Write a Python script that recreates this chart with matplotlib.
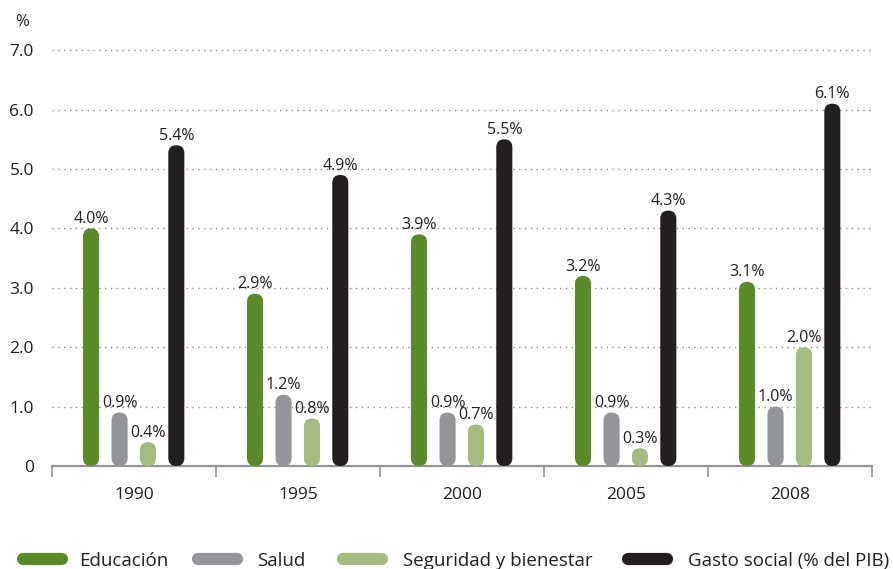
import matplotlib
matplotlib.use("Agg")
import matplotlib.pyplot as plt
from matplotlib.patches import FancyBboxPatch
from matplotlib.lines import Line2D
import numpy as np

plt.rcParams['font.family'] = ['Open Sans', 'DejaVu Sans']

years = ["1990", "1995", "2000", "2005", "2008"]
series_names = ["Educación", "Salud", "Seguridad y bienestar", "Gasto social (% del PIB)"]
educacion = [4.0, 2.9, 3.9, 3.2, 3.1]
salud = [0.9, 1.2, 0.9, 0.9, 1.0]
seguridad = [0.4, 0.8, 0.7, 0.3, 2.0]
gasto_social = [5.4, 4.9, 5.5, 4.3, 6.1]
y_ticks = [0, 1, 2, 3, 4, 5, 6, 7]
y_ticklabels = ["0", "1.0", "2.0", "3.0", "4.0", "5.0", "6.0", "7.0"]

colors = ["#5b8a2b", "#939598", "#a5bb82", "#231f20"]
offsets = [-0.262, -0.088, 0.085, 0.258]
bar_w = 0.098

W, H = 893, 569
fig = plt.figure(figsize=(W / 100, H / 100), dpi=100)
ax_left, ax_right = 52, 872
y0_px, ymax = 466, 7.2
px_per_unit = 59.4
top_px = y0_px - ymax * px_per_unit
ax = fig.add_axes([ax_left / W, 1 - y0_px / H, (ax_right - ax_left) / W, (y0_px - top_px) / H])
ax.set_xlim(-0.5, 4.5)
ax.set_ylim(0, ymax)

# aspect factor so the rounded ends are circular
x_per_px = 5.0 / (ax_right - ax_left)
y_per_px = 1.0 / px_per_unit
aspect = y_per_px / x_per_px

x = np.arange(len(years))
all_series = [educacion, salud, seguridad, gasto_social]
for vals, off, col in zip(all_series, offsets, colors):
    for xi, v in zip(x, vals):
        cx = xi + off
        patch = FancyBboxPatch((cx - bar_w / 2, 0), bar_w, v,
                               boxstyle=f"round,pad=0,rounding_size={bar_w / 2}",
                               mutation_aspect=aspect, facecolor=col,
                               edgecolor="none", zorder=3)
        ax.add_patch(patch)
        ax.annotate(f"{v:.1f}%", (cx, v), xytext=(0, 1), textcoords="offset points",
                    ha="center", va="bottom", fontsize=11.5, color="#231f20", zorder=4)

# dotted gridlines
for t in y_ticks[1:]:
    ax.axhline(t, color="#8a8c8e", linestyle=(0, (1, 3.2)), linewidth=1.0, zorder=1)

for s in ["top", "right", "left"]:
    ax.spines[s].set_visible(False)
ax.spines["bottom"].set_color("#939598")
ax.spines["bottom"].set_linewidth(1.6)

ax.set_yticks(y_ticks)
ax.set_yticklabels(y_ticklabels, fontsize=12.5, color="#231f20")
ax.tick_params(axis="y", length=0, pad=13)

# group separators below the axis
ax.set_xticks(np.arange(-0.5, 5.0, 1.0), minor=False)
ax.set_xticklabels([])
ax.tick_params(axis="x", which="major", direction="out", length=8, width=1.2, color="#939598")
ax.set_xticks(x, minor=True)
ax.set_xticklabels(years, minor=True, fontsize=12.5, color="#231f20")
ax.tick_params(axis="x", which="minor", length=0, pad=15)

fig.text(15 / W, 1 - 22 / H, "%", fontsize=12, color="#231f20", va="center", ha="left")

# legend: rounded swatch followed by its label
legend_y = 1 - 559 / H
swatch_x = [(17, 68), (192, 243), (337, 388), (622, 673)]
text_x = [79, 257, 403, 688]
cap_r = 6
for (x1, x2), tx, name, col in zip(swatch_x, text_x, series_names, colors):
    fig.add_artist(Line2D([(x1 + cap_r) / W, (x2 - cap_r) / W], [legend_y, legend_y],
                          transform=fig.transFigure, color=col, linewidth=8.8,
                          solid_capstyle="round"))
    fig.text(tx / W, legend_y, name, fontsize=13.5, color="#231f20",
             ha="left", va="center_baseline")

fig.savefig("out.png", dpi=100)
